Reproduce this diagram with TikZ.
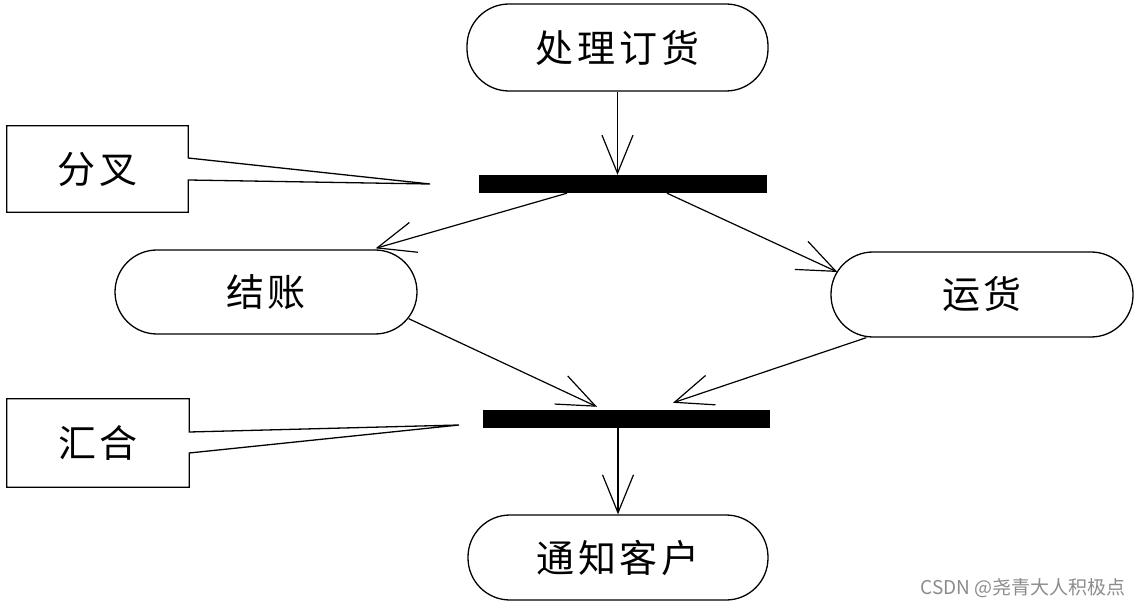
\documentclass[tikz,border=0pt]{standalone}
\usepackage{fontspec}
\newfontfamily\cjk[LetterSpace=10]{Noto Sans CJK SC}
\newfontfamily\wmfont{Noto Sans CJK SC}
\usetikzlibrary{arrows.meta}
\tikzset{
  act/.style={draw, line width=1.3pt, rounded corners=42pt, inner sep=0pt, font=\cjk\fontsize{38}{40}\selectfont},
  bar/.style={fill=black, draw=none, inner sep=0pt},
  notebox/.style={inner sep=0pt, font=\cjk\fontsize{38}{40}\selectfont},
  notepath/.style={line width=1.3pt, line join=miter},
  flow/.style={line width=1.2pt, -{Straight Barb[length=38pt,width=31pt,line width=1.2pt]}}
}
\begin{document}
\begin{tikzpicture}[x=1pt,y=1pt]
\useasboundingbox (0,0) rectangle (1139,608);
\fill[white] (0,0) rectangle (1139,608);
% activity nodes
\node[act, minimum width=301pt, minimum height=87pt] (top) at (617.5,560.5) {处理订货};
\node[act, minimum width=302pt, minimum height=84pt] (jz) at (266,316) {结账};
\node[act, minimum width=302pt, minimum height=85pt] (yh) at (982,313.5) {运货};
\node[act, minimum width=300pt, minimum height=85pt] (tz) at (618,50.5) {通知客户};
% bars
\node[bar, minimum width=288pt, minimum height=18pt] (fork) at (623,424) {};
\node[bar, minimum width=287pt, minimum height=18pt] (join) at (626.5,189) {};
% notes
\node[notebox, minimum width=181pt, minimum height=86pt] (n1) at (97.5,439) {分叉};
\node[notebox, minimum width=182pt, minimum height=88pt] (n2) at (98,165) {汇合};
\coordinate (c1) at (430,424);
\coordinate (c2) at (459,183);
\draw[notepath] ([yshift=11pt]n1.east) -- (n1.north east) -- (n1.north west) -- (n1.south west) -- (n1.south east) -- ([yshift=-11pt]n1.east) -- (c1) -- cycle;
\draw[notepath] ([yshift=11pt]n2.east) -- (n2.north east) -- (n2.north west) -- (n2.south west) -- (n2.south east) -- ([yshift=-10pt]n2.east) -- (c2) -- cycle;
% flows
\draw[flow] (top.south) -- (top.south |- fork.north);
\draw[flow] ([xshift=-56pt]fork.south) -- ([xshift=-42pt,yshift=1pt]jz.north east);
\draw[flow] ([xshift=44pt]fork.south) -- ([xshift=7pt,yshift=22.5pt]yh.west);
\draw[flow] ([xshift=-9pt,yshift=16pt]jz.south east) -- ([xshift=-29.5pt,yshift=3pt]join.north);
\draw[flow] ([xshift=36pt]yh.south west) -- ([xshift=46.5pt,yshift=7pt]join.north);
\draw[flow] (tz.north |- join.south) -- (tz.north);
% watermark
\node[font=\wmfont\fontsize{19}{21}\selectfont, text=black!45, anchor=east, inner sep=0pt] (wm) at (1126,20) {CSDN @尧青大人积极点};
\end{tikzpicture}
\end{document}
